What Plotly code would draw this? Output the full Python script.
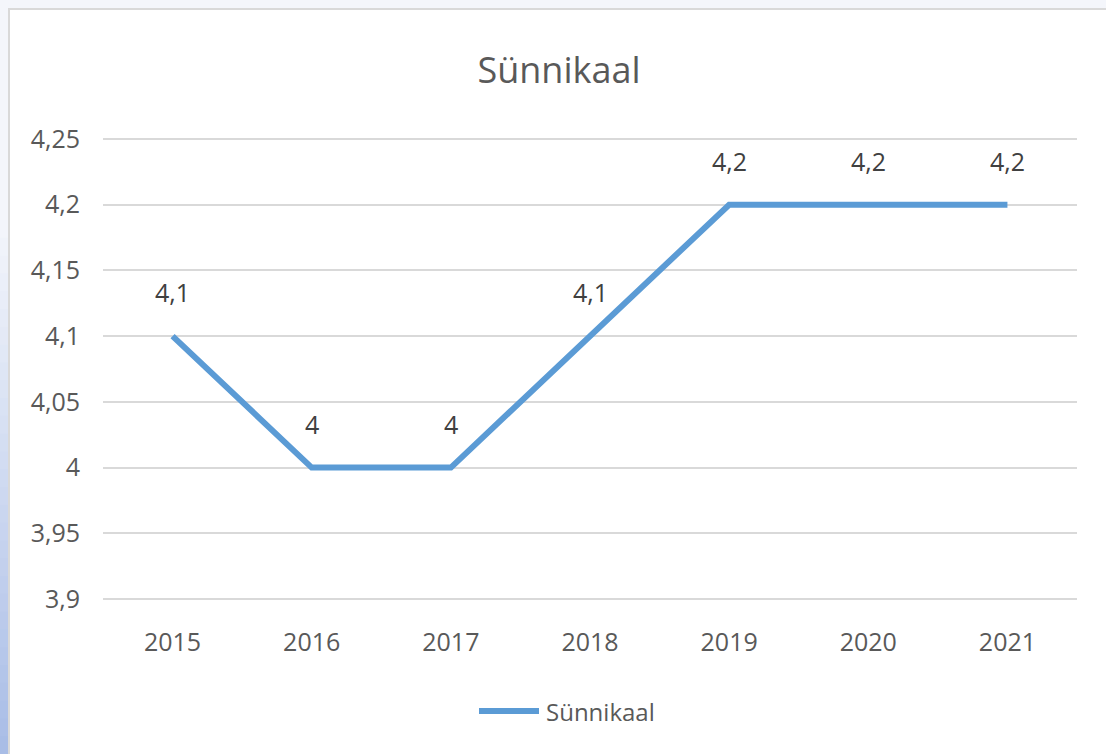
import plotly.graph_objects as go

years = ["2015", "2016", "2017", "2018", "2019", "2020", "2021"]
values = [4.1, 4.0, 4.0, 4.1, 4.2, 4.2, 4.2]
series_name = "Sünnikaal"
title_text = "Sünnikaal"
y_tickvals = [3.9, 3.95, 4.0, 4.05, 4.1, 4.15, 4.2, 4.25]
y_ticktext = ["3,9", "3,95", "4", "4,05", "4,1", "4,15", "4,2", "4,25"]

W, H = 1106, 754
PAD = 3  # extra pixels so edge gridlines are not clipped
L, R, T, B = 103, 1077, 139 - PAD, 599 + PAD
Y_MIN, Y_MAX = 3.9, 4.25
per_px = (Y_MAX - Y_MIN) / (B - T - 2 * PAD)
FONT = "Open Sans, Noto Sans, sans-serif"
LINE_COLOR = "#5b9bd5"
BG = "rgb(244,246,251)"


def px_x(px):
    return (px - L) / (R - L)


def px_y(py):
    return (B - py) / (B - T)


def fmt(v):
    return ("%g" % v).replace(".", ",")


fig = go.Figure()
fig.add_trace(go.Scatter(
    x=years, y=values, mode="lines", name=series_name,
    line=dict(color=LINE_COLOR, width=6), showlegend=False, hoverinfo="skip",
))

shapes = []


def lerp(c1, c2, t):
    return "rgb(%d,%d,%d)" % tuple(round(a + (b - a) * t) for a, b in zip(c1, c2))


top_c = (244, 246, 251)
bot_c = (168, 188, 230)
n = 30
y0p, y1p = 220, 754
for i in range(n):
    a = y0p + (y1p - y0p) * i / n
    b = y0p + (y1p - y0p) * (i + 1) / n
    shapes.append(dict(type="rect", xref="paper", yref="paper", x0=px_x(-5), x1=px_x(8.5),
                       y0=px_y(b + 10), y1=px_y(a), fillcolor=lerp(top_c, bot_c, (i + 0.5) / n),
                       line_width=0, layer="below"))
# white chart area with border
shapes.append(dict(type="rect", xref="paper", yref="paper", x0=px_x(9), x1=px_x(1120),
                   y0=px_y(770), y1=px_y(9), fillcolor="white",
                   line=dict(color="#d9d9d9", width=2), layer="below"))
# legend sample line
shapes.append(dict(type="line", xref="paper", yref="paper", x0=px_x(479), x1=px_x(539),
                   y0=px_y(711), y1=px_y(711), line=dict(color=LINE_COLOR, width=6)))

annotations = []
for i, v in enumerate(values):
    annotations.append(dict(x=i, y=v, xref="x", yref="y", text=fmt(v), showarrow=False,
                            yshift=44, font=dict(family=FONT, size=25, color="#404040")))
annotations.append(dict(x=px_x(544), y=px_y(711), xref="paper", yref="paper", text=series_name,
                        showarrow=False, xanchor="left", yanchor="middle",
                        font=dict(family=FONT, size=24, color="#595959")))

fig.update_layout(
    width=W, height=H,
    margin=dict(l=L, r=W - R, t=T, b=H - B, pad=0),
    paper_bgcolor=BG,
    plot_bgcolor="rgba(0,0,0,0)",
    title=dict(text=title_text, x=559 / W, xanchor="center", y=1 - 70 / H, yanchor="middle",
               font=dict(family=FONT, size=36, color="#595959")),
    shapes=shapes,
    annotations=annotations,
    showlegend=False,
    hovermode=False,
)
fig.update_xaxes(
    type="category", range=[-0.5, 6.5], showgrid=False, zeroline=False,
    showline=False, ticks="", ticklabelstandoff=26 - PAD,
    tickfont=dict(family=FONT, size=25, color="#595959"),
)
fig.update_yaxes(
    range=[Y_MIN - PAD * per_px, Y_MAX + PAD * per_px], tickvals=y_tickvals, ticktext=y_ticktext,
    showgrid=True, gridcolor="#d9d9d9", gridwidth=2, zeroline=False, showline=False,
    ticks="", ticklabelstandoff=22,
    tickfont=dict(family=FONT, size=25, color="#595959"),
)

post = ("document.body.style.margin='0';document.body.style.overflow='hidden';"
        "document.body.style.background='rgb(244,246,251)';"
        "document.documentElement.style.overflow='hidden';")
fig.write_html("out.html", post_script=post, config={"displayModeBar": False})
